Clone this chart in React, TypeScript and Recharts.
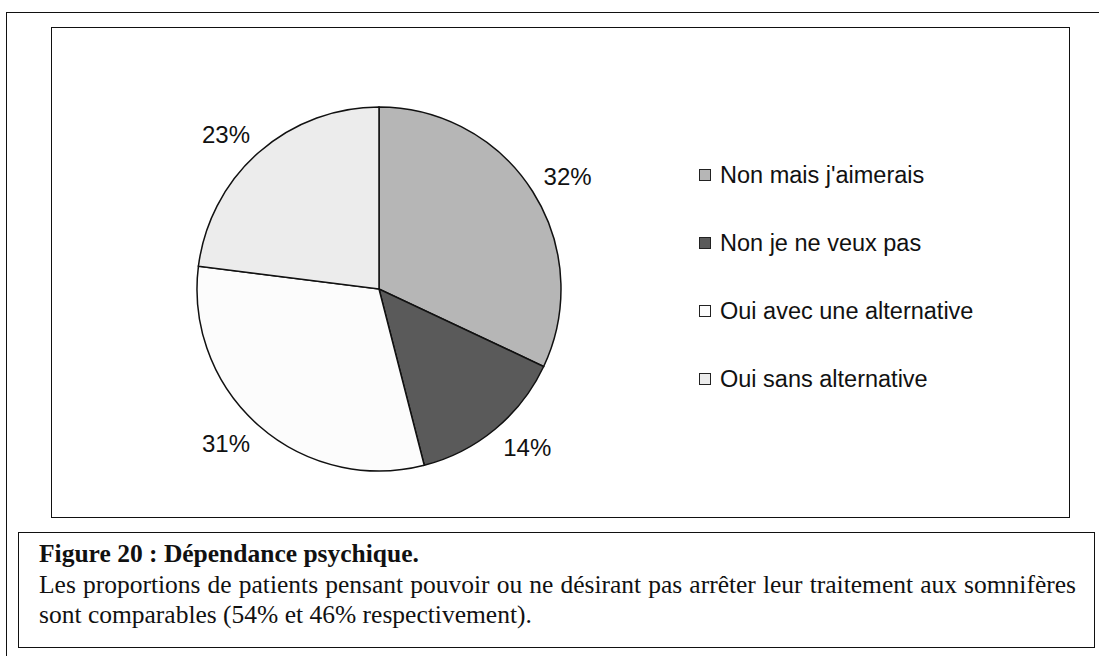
import React from "react";
import { PieChart, Pie, Cell, Legend } from "recharts";

const categories = [
  "Non mais j'aimerais",
  "Non je ne veux pas",
  "Oui avec une alternative",
  "Oui sans alternative",
];
const values = [32, 14, 31, 23];
const colors = ["#b6b6b6", "#5a5a5a", "#fcfcfc", "#ececec"];
const captionTitle = "Figure 20 : Dépendance psychique.";
const captionLine1 =
  "Les proportions de patients pensant pouvoir ou ne désirant pas arrêter leur traitement aux somnifères";
const captionLine2 = "sont comparables (54% et 46% respectivement).";

const data = categories.map((name, i) => ({ name, value: values[i] }));

const RAD = Math.PI / 180;
const LABEL_FONT = 24;

const renderLabel = (props: any) => {
  const { cx, cy, midAngle, outerRadius, value } = props;
  const c = Math.cos(-midAngle * RAD);
  const s = Math.sin(-midAngle * RAD);
  const g = outerRadius + 13;
  const w = LABEL_FONT * 2.0;
  const h = 17;
  const x = cx + c * g + Math.sign(c) * (w / 2);
  const y = cy + s * g + Math.sign(s) * (h / 2);
  return (
    <text
      x={x}
      y={y}
      textAnchor="middle"
      dominantBaseline="central"
      fontFamily="'Liberation Sans', Arial, sans-serif"
      fontSize={LABEL_FONT}
      fill="#111"
    >
      {`${value}%`}
    </text>
  );
};

const renderLegend = () => (
  <div style={{ fontFamily: "'Liberation Sans', Arial, sans-serif", fontSize: 23.5, color: "#111" }}>
    {categories.map((name, i) => (
      <div key={name} style={{ height: 68, display: "flex", alignItems: "center" }}>
        <span
          style={{
            display: "inline-block",
            width: 10,
            height: 10,
            border: "1.5px solid #222",
            background: colors[i],
            marginRight: 9,
          }}
        />
        <span>{name}</span>
      </div>
    ))}
  </div>
);

export default function App() {
  return (
    <div
      style={{
        position: "absolute",
        left: 0,
        top: 0,
        width: 1099,
        height: 656,
        overflow: "hidden",
        background: "#fff",
      }}
    >
      <div
        style={{
          position: "absolute",
          left: 6,
          top: 12,
          width: 1200,
          height: 800,
          border: "1.5px solid #111",
        }}
      />
      <div
        style={{
          position: "absolute",
          left: 51,
          top: 27,
          width: 1017,
          height: 489,
          border: "1.5px solid #111",
          background: "#fff",
        }}
      >
        <PieChart width={1017} height={489}>
          <Pie
            data={data}
            dataKey="value"
            nameKey="name"
            cx={322}
            cy={256}
            outerRadius={182}
            startAngle={90}
            endAngle={-270}
            stroke="#111"
            strokeWidth={1.5}
            label={renderLabel}
            labelLine={false}
            isAnimationActive={false}
          >
            {data.map((d, i) => (
              <Cell key={d.name} fill={colors[i]} />
            ))}
          </Pie>
          <Legend
            content={renderLegend}
            wrapperStyle={{ left: 647, top: 113, width: 360 }}
          />
        </PieChart>
      </div>
      <div
        style={{
          position: "absolute",
          left: 18,
          top: 532,
          width: 1077,
          height: 116,
          border: "1.5px solid #111",
          background: "#fff",
          boxSizing: "border-box",
          padding: "6px 18px 0 20px",
          fontFamily: "'Liberation Serif', 'Times New Roman', serif",
          fontSize: 25.5,
          lineHeight: "30.5px",
          color: "#111",
        }}
      >
        <div style={{ fontWeight: "bold", fontSize: 25.5 }}>{captionTitle}</div>
        <div style={{ textAlign: "justify", textAlignLast: "justify" as any, whiteSpace: "nowrap", overflow: "hidden" }}>
          {captionLine1}
        </div>
        <div>{captionLine2}</div>
      </div>
    </div>
  );
}
